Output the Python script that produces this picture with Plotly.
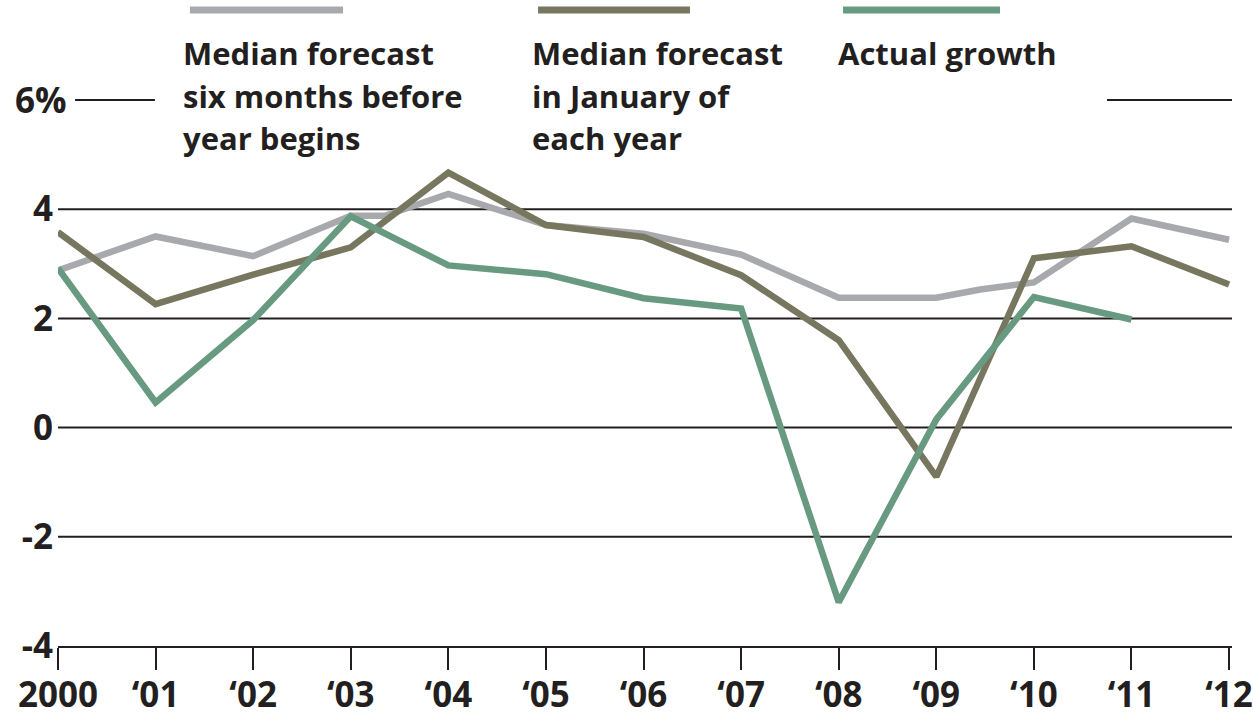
import plotly.graph_objects as go

# ---- data ----
gray_x = [2000, 2001, 2002, 2003, 2003.35, 2004, 2005, 2006, 2007, 2008, 2009, 2009.45, 2010, 2011, 2012]
gray_y = [2.88, 3.50, 3.14, 3.88, 3.88, 4.28, 3.71, 3.55, 3.17, 2.38, 2.38, 2.53, 2.66, 3.83, 3.44]

olive_x = [2000, 2001, 2002, 2003, 2004, 2005, 2006, 2007, 2008, 2009, 2010, 2011, 2012]
olive_y = [3.58, 2.26, 2.80, 3.30, 4.67, 3.71, 3.49, 2.79, 1.60, -0.90, 3.10, 3.32, 2.62]

green_x = [2000, 2001, 2002, 2003, 2004, 2005, 2006, 2007, 2008, 2009, 2010, 2011]
green_y = [2.92, 0.46, 1.97, 3.87, 2.97, 2.81, 2.37, 2.18, -3.20, 0.15, 2.39, 1.98]

x_tickvals = list(range(2000, 2013))
x_ticktext = ["2000", "‘01", "‘02", "‘03", "‘04", "‘05", "‘06", "‘07", "‘08", "‘09", "‘10", "‘11", "‘12"]
y_tickvals = [-4, -2, 0, 2, 4]
y_ticktext = ["-4", "-2", "0", "2", "4"]
grid_vals = [-2, 0, 2, 4]
top_val = 6
top_label = "6%"

legend_labels = [
    ["Median forecast", "six months before", "year begins"],
    ["Median forecast", "in January of", "each year"],
    ["Actual growth"],
]

GRAY = "#a8a9ad"
OLIVE = "#77775f"
GREEN = "#689a81"
INK = "#231f20"
FONT = "Open Sans"

fig = go.Figure()
for xs, ys, col in [(gray_x, gray_y, GRAY), (olive_x, olive_y, OLIVE), (green_x, green_y, GREEN)]:
    fig.add_trace(go.Scatter(x=xs, y=ys, mode="lines", line=dict(color=col, width=6.5),
                             showlegend=False, hoverinfo="skip", cliponaxis=False))

shapes = []
for g in grid_vals:
    shapes.append(dict(type="line", xref="paper", yref="y", x0=0, x1=1, y0=g, y1=g,
                       line=dict(color=INK, width=2), layer="below"))
# broken top gridline
for a, b in [(0.0145, 0.0826), (0.8935, 1.0)]:
    shapes.append(dict(type="line", xref="paper", yref="y", x0=a, x1=b, y0=top_val, y1=top_val,
                       line=dict(color=INK, width=2), layer="below"))
# legend bars
for (a, b), col in zip([(0.1124, 0.2428), (0.4089, 0.5383), (0.6687, 0.8024)], [GRAY, OLIVE, GREEN]):
    shapes.append(dict(type="line", xref="paper", yref="paper", x0=a, x1=b, y0=1.1357, y1=1.1357,
                       line=dict(color=col, width=7)))

annotations = []
line_ys = [1.0589, 0.9821, 0.9071]
for xp, lines in zip([0.1048, 0.4020, 0.6627], legend_labels):
    for i, t in enumerate(lines):
        annotations.append(dict(text=t, xref="paper", yref="paper", x=xp, y=line_ys[i],
                                xanchor="left", yanchor="middle", showarrow=False,
                                font=dict(family=FONT, size=31, color=INK, weight=700)))
annotations.append(dict(text=top_label, xref="paper", yref="y", x=-0.0383, y=top_val,
                        xanchor="left", yanchor="middle", showarrow=False,
                        font=dict(family=FONT, size=35, color=INK, weight=700)))

fig.update_layout(
    width=1253, height=713,
    margin=dict(l=58, r=21, t=86, b=67, autoexpand=False),
    paper_bgcolor="white", plot_bgcolor="white",
    shapes=shapes, annotations=annotations,
    xaxis=dict(range=[2000, 2012.03], tickvals=x_tickvals, ticktext=x_ticktext,
               automargin=False,
               showgrid=False, zeroline=False, showline=True, linecolor=INK, linewidth=2,
               ticks="outside", ticklen=22, tickwidth=2, tickcolor=INK,
               ticklabelstandoff=-5,
               tickfont=dict(family=FONT, size=35, color=INK, weight=700)),
    yaxis=dict(range=[-4, 6.256], tickvals=y_tickvals, ticktext=y_ticktext,
               automargin=False,
               showgrid=False, zeroline=False, showline=False, ticks="",
               ticklabelstandoff=4,
               tickfont=dict(family=FONT, size=35, color=INK, weight=700)),
)

fig.write_html("out.html", config={"displayModeBar": False},
               post_script="document.body.style.margin='0';document.body.style.padding='0';document.body.style.overflow='hidden';")
